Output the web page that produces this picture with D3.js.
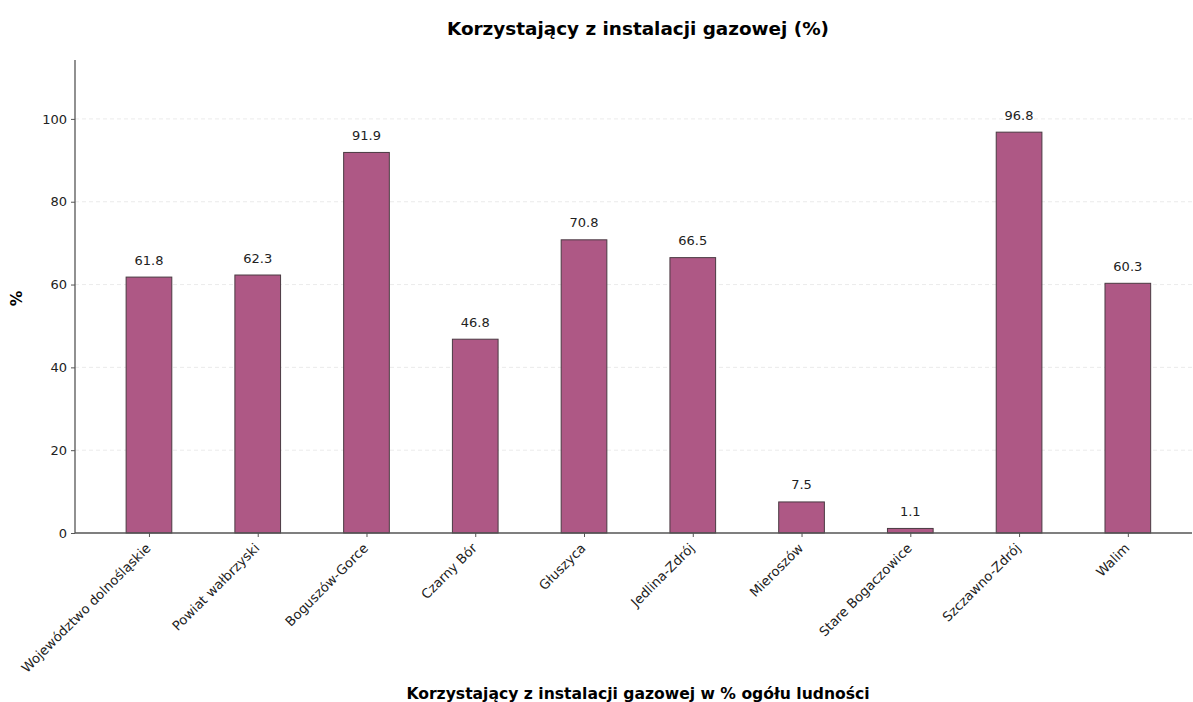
<!DOCTYPE html>
<html><head><meta charset="utf-8">
<script src="https://cdn.jsdelivr.net/npm/d3@7"></script>
<style>body{margin:0;background:#fff}text{font-family:"DejaVu Sans",sans-serif}</style>
</head><body><svg id="c" width="1193" height="702"></svg>
<script>
const categories = ["Województwo dolnośląskie","Powiat wałbrzyski","Boguszów-Gorce","Czarny Bór","Głuszyca","Jedlina-Zdrój","Mieroszów","Stare Bogaczowice","Szczawno-Zdrój","Walim"];
const values = [61.8,62.3,91.9,46.8,70.8,66.5,7.5,1.1,96.8,60.3];
const yTicks = [0,20,40,60,80,100];
const title = "Korzystający z instalacji gazowej (%)";
const xLabel = "Korzystający z instalacji gazowej w % ogółu ludności";
const yLabel = "%";

(function(){
const svg = d3.select("#c");
const mL = 75, mR = 1192, mT = 60, mB = 533;
const x = d3.scaleLinear().domain([-0.68, 9.59]).range([mL, mR]);
const y = d3.scaleLinear().domain([0, 96.8*1.18]).range([mB, mT]);
const bw = x(0.42) - x(0);

// grid
svg.append("g").selectAll("line").data(yTicks.filter(d=>d>0)).join("line")
  .attr("x1", mL).attr("x2", mR).attr("y1", d=>y(d)).attr("y2", d=>y(d))
  .attr("stroke", "#e6e6e6").attr("stroke-width", 0.8).attr("stroke-dasharray", "4,3");

// bars
svg.append("g").selectAll("rect").data(values).join("rect")
  .attr("x", (d,i)=>x(i)-bw/2).attr("width", bw)
  .attr("y", d=>y(d)).attr("height", d=>mB-y(d))
  .attr("fill", "#ae5885").attr("stroke", "#4a3a42").attr("stroke-width", 1);

// value labels
svg.append("g").selectAll("text").data(values).join("text")
  .attr("x", (d,i)=>x(i)).attr("y", d=>y(d)-12.5)
  .attr("text-anchor","middle").attr("font-size", 13).attr("fill","#222")
  .text(d=>d.toFixed(1));

// y axis
const ya = svg.append("g").attr("transform", `translate(${mL},0)`)
  .call(d3.axisLeft(y).tickValues(yTicks).tickSize(4).tickPadding(4));
ya.select(".domain").attr("d", `M0,${mT}V${mB}`).attr("stroke","#555").attr("stroke-width",1.3);
ya.selectAll(".tick line").attr("stroke","#555");
ya.selectAll(".tick text").attr("font-size", 13).attr("fill","#222").attr("font-family","DejaVu Sans");

// x axis
const xa = svg.append("g").attr("transform", `translate(0,${mB})`)
  .call(d3.axisBottom(x).tickValues(d3.range(categories.length)).tickFormat(i=>categories[i]).tickSize(4));
xa.select(".domain").attr("d", `M${mL},0H${mR}`).attr("stroke","#555").attr("stroke-width",1.3);
xa.selectAll(".tick line").attr("stroke","#555");
xa.selectAll(".tick text").attr("font-size", 13.2).attr("fill","#222").attr("font-family","DejaVu Sans")
  .attr("text-anchor","end").attr("dy", null).attr("y", 0)
  .attr("transform","translate(2,16) rotate(-45)");

// titles
svg.append("text").attr("x", 638).attr("y", 35).attr("text-anchor","middle")
  .attr("font-size", 18.4).attr("font-weight","bold").attr("fill","#000").text(title);
svg.append("text").attr("x", 638).attr("y", 699).attr("text-anchor","middle")
  .attr("font-size", 15.6).attr("font-weight","bold").attr("fill","#000").text(xLabel);
svg.append("text").attr("transform", `translate(22,${(mT+mB)/2+2}) rotate(-90)`).attr("text-anchor","middle")
  .attr("font-size", 15.6).attr("font-weight","bold").attr("fill","#000").text(yLabel);
})();
</script></body></html>
